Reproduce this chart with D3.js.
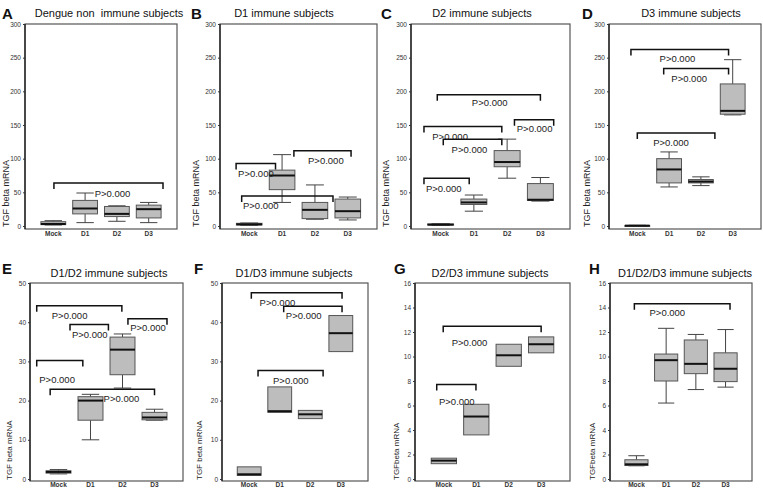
<!DOCTYPE html>
<html><head><meta charset="utf-8">
<script src="https://cdn.jsdelivr.net/npm/d3@7"></script>
<style>body{margin:0;background:#fff}svg{display:block}</style>
</head><body>
<svg id="c" width="763" height="489"></svg>
<script>
// ---------- DATA ----------
const categories = ["Mock", "D1", "D2", "D3"];
const panelLetters = ["A", "B", "C", "D", "E", "F", "G", "H"];
const panelTitles = ["Dengue non  immune subjects", "D1 immune subjects", "D2 immune subjects", "D3 immune subjects",
  "D1/D2 immune subjects", "D1/D3 immune subjects", "D2/D3 immune subjects", "D1/D2/D3 immune subjects"];
const yAxisLabels = ["TGF beta mRNA", "TGF beta mRNA", "TGF beta mRNA", "TGF beta mRNA",
  "TGF beta mRNA", "TGF beta mRNA", "TGFbeta mRNA", "TGFbeta mRNA"];
const yMax = [300, 300, 300, 300, 50, 50, 16, 16];
const yTicks300 = [0, 50, 100, 150, 200, 250, 300];
const yTicks50 = [0, 10, 20, 30, 40, 50];
const yTicks16 = [0, 2, 4, 6, 8, 10, 12, 14, 16];
const pLabel = "P>0.000";

// box statistics [min, q1, median, q3, max] for Mock, D1, D2, D3
const statsA = [[1.5, 2, 3, 6.4, 7.9], [5, 18, 26, 38, 49], [7, 14, 18, 29, 30], [5, 12, 25, 31, 35]];
const statsB = [[1, 1.5, 2.5, 4, 4.5], [35, 54, 75, 83, 106], [10, 11, 24, 35, 61], [9, 12, 22, 40, 43]];
const statsC = [[1, 1.5, 2, 3, 3.5], [22, 32, 35, 40, 46], [71, 88, 95, 112, 129], [37, 38, 39, 63, 72]];
const statsD = [[0, 0.2, 0.5, 0.8, 1], [58, 64, 84, 100, 110], [60, 64, 66, 69, 73], [165, 166, 171, 211, 247]];
const statsE = [[1.3, 1.5, 1.8, 2.1, 2.4], [10, 15, 20, 21, 21.6], [23.2, 26.6, 33, 36.2, 37], [15, 15.1, 15.7, 17, 17.8]];
const statsF = [[0.9, 0.9, 1.2, 3.1, 3.1], [17, 17, 17.3, 23.5, 23.5], [15.4, 15.4, 16.5, 17.5, 17.5], [32.5, 32.5, 37.2, 41.7, 41.7]];
const statsG = [[1.25, 1.25, 1.5, 1.7, 1.7], [3.6, 3.6, 5.1, 6.1, 6.1], [9.2, 9.2, 10.1, 11, 11], [10.3, 10.3, 11, 11.6, 11.6]];
const statsH = [[1.08, 1.1, 1.2, 1.57, 1.9], [6.2, 8, 9.7, 10.2, 12.3], [7.3, 8.6, 9.4, 11.35, 11.8], [7.5, 7.95, 9, 10.3, 12.2]];

// significance brackets [fromCategoryIndex, toCategoryIndex, value, labelStartIndex, labelValue]
const bracketsA = [[0.02, 3.45, 64, 1.3, 48]];
const bracketsB = [[-0.4, 0.8, 92.7, -0.34, 78], [1.36, 3.1, 111.7, 1.79, 97.7], [-0.23, 2.55, 44.4, -0.19, 30.4]];
const bracketsC = [[-0.1, 3.0, 195, 0.94, 182.7], [-0.5, 1.84, 147.8, -0.25, 132.8], [0.08, 1.84, 128.8, 0.33, 113.8],
  [2.22, 3.4, 157.8, 2.29, 143.8], [-0.5, 0.86, 71, -0.44, 56]];
const bracketsD = [[-0.2, 2.87, 262, 0.7, 248.4], [0.83, 2.87, 234, 1.07, 219.4], [0, 2.44, 138.2, 0.5, 124.4]];
const bracketsE = [[-0.68, 1.98, 44.2, -0.21, 41.7], [0.36, 1.56, 39.4, 0.42, 36.8], [2.17, 3.39, 40.9, 2.24, 38.5],
  [-0.68, 0.76, 30.2, -0.6, 25.3], [-0.26, 3.0, 22.9, 1.41, 20.4]];
const bracketsF = [[0.07, 3.04, 47.5, 0.34, 45], [1.13, 3.04, 44.1, 1.2, 41.6], [0.29, 2.42, 27.7, 0.78, 25.1]];
const bracketsG = [[-0.02, 3.0, 12.47, 0.24, 11.1], [-0.22, 0.99, 7.72, -0.15, 6.3]];
const bracketsH = [[-0.07, 3.15, 14.3, 0.44, 13.6]];

const allStats = [statsA, statsB, statsC, statsD, statsE, statsF, statsG, statsH];
const allBrackets = [bracketsA, bracketsB, bracketsC, bracketsD, bracketsE, bracketsF, bracketsG, bracketsH];
const allTicks = [yTicks300, yTicks300, yTicks300, yTicks300, yTicks50, yTicks50, yTicks16, yTicks16];

// ---------- LAYOUT ----------
const rows = [
  {top: 24, zero: 226, bottom: 229, titleY: 17, letterY: 19, catY: 236},
  {top: 283, zero: 479, bottom: 481, titleY: 277, letterY: 274, catY: 487}
];
const layout = [
  {x0: 25, x1: 177, row: 0, titleX: 109, letterX: 2, ylabX: 6},
  {x0: 220, x1: 377, row: 0, titleX: 284, letterX: 191, ylabX: 196},
  {x0: 411, x1: 570, row: 0, titleX: 482, letterX: 381, ylabX: 386},
  {x0: 609, x1: 761, row: 0, titleX: 691, letterX: 582, ylabX: 587},
  {x0: 30, x1: 183, row: 1, titleX: 109, letterX: 2, ylabX: 9},
  {x0: 222, x1: 368, row: 1, titleX: 294, letterX: 194, ylabX: 199},
  {x0: 415, x1: 570, row: 1, titleX: 490, letterX: 394, ylabX: 396},
  {x0: 610, x1: 752, row: 1, titleX: 685, letterX: 589, ylabX: 592}
];

const svg = d3.select("#c");
const font = "'Liberation Sans', Arial, sans-serif";
const narrow = "'Liberation Sans Narrow', 'Liberation Sans', Arial, sans-serif";

layout.forEach((L, p) => {
  const R = rows[L.row];
  const g = svg.append("g");
  const x = d3.scaleBand().domain(categories).range([L.x0, L.x1]).paddingInner(0.22).paddingOuter(0.5);
  const y = d3.scaleLinear().domain([0, yMax[p]]).range([R.zero, R.top]);
  const bw = x.bandwidth(), step = x.step();
  const cx = i => x(categories[0]) + bw / 2 + i * step;

  // frame
  g.append("rect").attr("x", L.x0).attr("y", R.top).attr("width", L.x1 - L.x0).attr("height", R.bottom - R.top)
    .attr("fill", "none").attr("stroke", "#555").attr("stroke-width", 1.2);
  g.append("line").attr("x1", L.x0).attr("x2", L.x0).attr("y1", R.top).attr("y2", R.bottom)
    .attr("stroke", "#111").attr("stroke-width", 1.2);

  // y axis ticks
  const ax = g.append("g").attr("transform", `translate(${L.x0},0)`)
    .call(d3.axisLeft(y).tickValues(allTicks[p]).tickSize(2).tickPadding(2).tickFormat(d3.format("d")));
  ax.select(".domain").remove();
  ax.selectAll("text").attr("font-family", narrow).attr("font-size", 6.5).attr("fill", "#333");
  ax.selectAll("line").attr("stroke", "#333");

  // category labels
  g.selectAll(".cat").data(categories).join("text")
    .attr("x", d => x(d) + bw / 2).attr("y", R.catY)
    .attr("text-anchor", "middle").attr("font-family", narrow).attr("font-size", 6.5)
    .attr("font-weight", "bold").attr("fill", "#333").text(d => d);

  // boxes
  const st = allStats[p];
  const capW = bw * 0.7;
  categories.forEach((c, i) => {
    const [mn, q1, md, q3, mx] = st[i];
    const xc = x(c) + bw / 2;
    const bg = g.append("g");
    bg.append("line").attr("x1", xc).attr("x2", xc).attr("y1", y(mx)).attr("y2", y(q3)).attr("stroke", "#444").attr("stroke-width", 1);
    bg.append("line").attr("x1", xc).attr("x2", xc).attr("y1", y(q1)).attr("y2", y(mn)).attr("stroke", "#444").attr("stroke-width", 1);
    if (mx > q3) bg.append("line").attr("x1", xc - capW / 2).attr("x2", xc + capW / 2).attr("y1", y(mx)).attr("y2", y(mx)).attr("stroke", "#444").attr("stroke-width", 1);
    if (mn < q1) bg.append("line").attr("x1", xc - capW / 2).attr("x2", xc + capW / 2).attr("y1", y(mn)).attr("y2", y(mn)).attr("stroke", "#444").attr("stroke-width", 1);
    bg.append("rect").attr("x", x(c)).attr("width", bw).attr("y", y(q3)).attr("height", Math.max(1, y(q1) - y(q3)))
      .attr("fill", "#bdbdbd").attr("stroke", "#555").attr("stroke-width", 1);
    bg.append("line").attr("x1", x(c)).attr("x2", x(c) + bw).attr("y1", y(md)).attr("y2", y(md))
      .attr("stroke", "#111").attr("stroke-width", 2);
  });

  // brackets
  allBrackets[p].forEach(b => {
    const [f, t, v, li, lv] = b;
    const yy = y(v);
    g.append("path").attr("d", `M${cx(f)},${yy + 6}V${yy}H${cx(t)}V${yy + 6}`)
      .attr("fill", "none").attr("stroke", "#111").attr("stroke-width", 1.5);
    g.append("text").attr("x", cx(li)).attr("y", y(lv)).attr("dy", "0.35em")
      .attr("font-family", font).attr("font-size", 9.5).attr("fill", "#222").text(pLabel);
  });

  // y axis label
  g.append("text").attr("transform", `translate(${L.ylabX},${R.zero + 1}) rotate(-90)`)
    .attr("dy", "0.35em").attr("font-family", font).attr("font-size", p < 4 ? 9 : 8)
    .attr("fill", "#222").text(yAxisLabels[p]);

  // title and letter
  g.append("text").attr("x", L.titleX).attr("y", R.titleY).attr("text-anchor", "middle")
    .attr("font-family", font).attr("font-size", 11).attr("fill", "#111")
    .style("white-space", "pre").text(panelTitles[p]);
  g.append("text").attr("x", L.letterX).attr("y", R.letterY).attr("font-family", font)
    .attr("font-size", 15).attr("font-weight", "bold").attr("fill", "#111").text(panelLetters[p]);
});
</script>
</body></html>
